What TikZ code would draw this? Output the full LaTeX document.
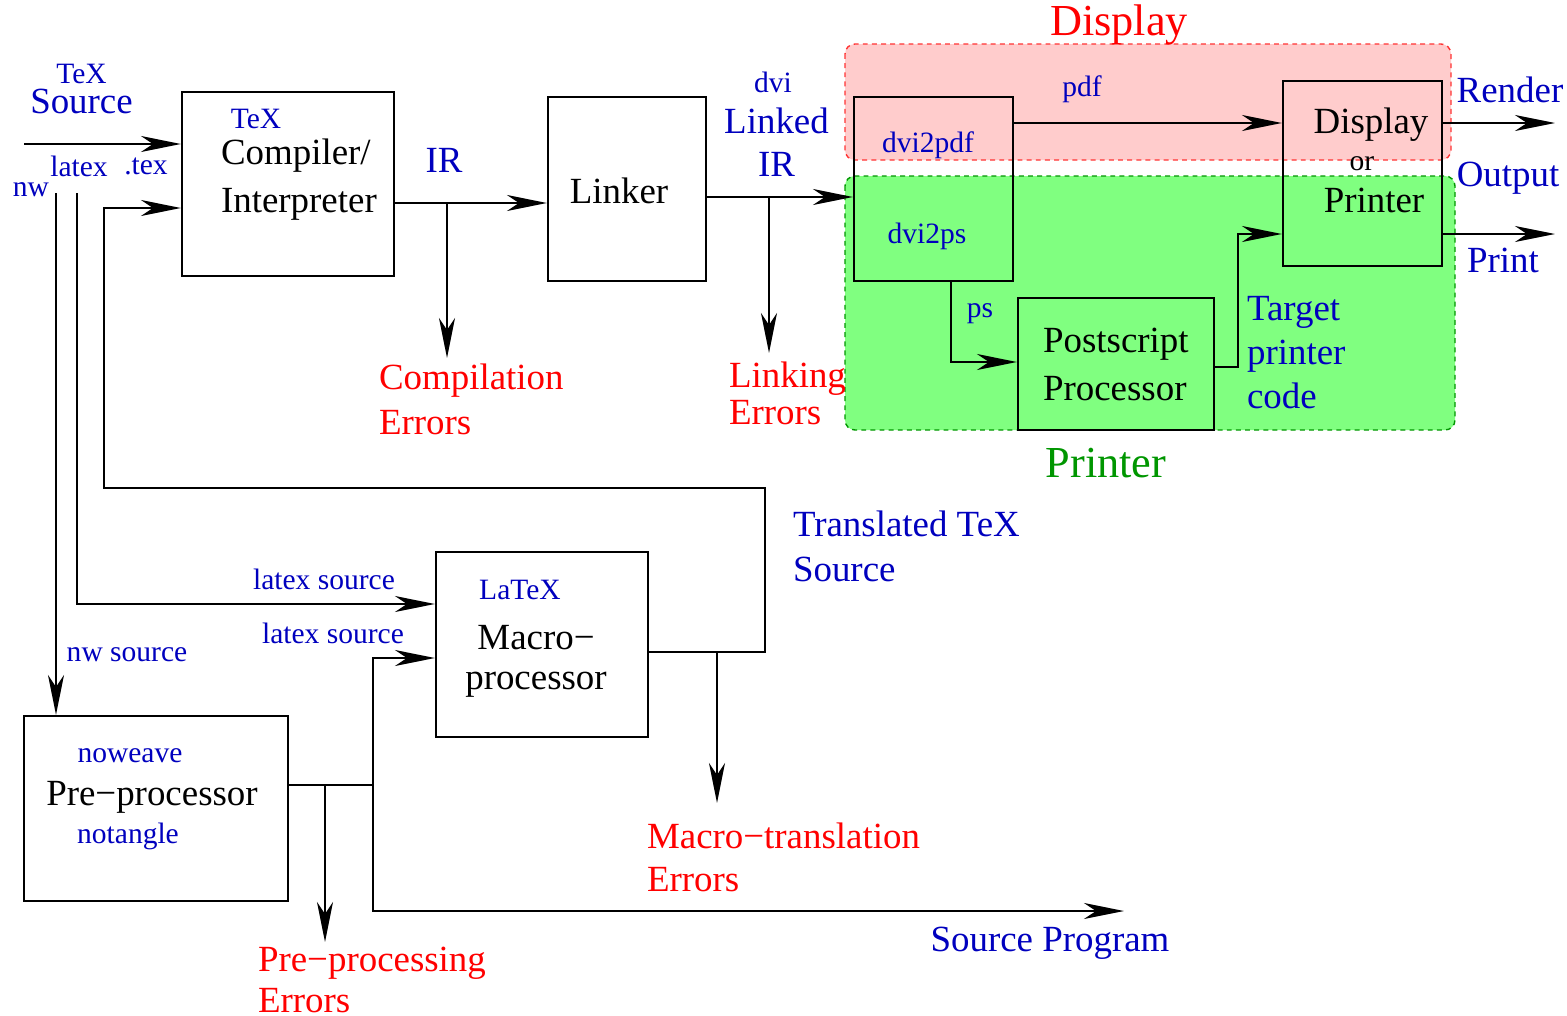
\documentclass[tikz,border=0pt]{standalone}
\usepackage{fontspec}
\setmainfont{Liberation Serif}
\usetikzlibrary{positioning,arrows.meta}
\definecolor{FigBlue}{RGB}{0,0,190}
\definecolor{FigRed}{RGB}{255,0,0}
\definecolor{FigGreen}{RGB}{0,150,0}
\definecolor{DispFill}{RGB}{255,204,204}
\definecolor{PrnFill}{RGB}{128,255,128}

\begin{document}
\begin{tikzpicture}[>={Stealth[length=4mm,width=1.6mm,inset=1.2mm]},
                    line width=0.6pt,
                    box/.style={draw, inner sep=0pt},
                    txt/.style={inner sep=0pt, font=\fontsize{10.5}{13}\selectfont},
                    note/.style={txt, text=FigBlue},
                    small/.style={inner sep=0pt, text=FigBlue, font=\fontsize{8.4}{10}\selectfont},
                    err/.style={txt, text=FigRed, align=left, anchor=west},
                    title/.style={inner sep=0pt, font=\fontsize{12.6}{15}\selectfont},
                    zone/.style={dashed, dash pattern=on 1.4pt off 1.2pt, rounded corners=1mm, line width=0.4pt}]
\useasboundingbox (0,0) rectangle (15.67,-10.16);

% output zones
\draw[zone, draw=FigRed!80, fill=DispFill] (8.45,-0.44) rectangle (14.51,-1.60);
\draw[zone, draw=FigGreen, fill=PrnFill] (8.45,-1.76) rectangle (14.55,-4.30);
\node[title, text=FigRed] (disptitle) at (11.19,-0.25) {Display};
\node[title, text=FigGreen] (prntitle) at (11.06,-4.63) {Printer};

% boxes
\node[box, minimum width=2.12cm, minimum height=1.84cm] (comp) at (2.88,-1.84) {};
\node[box, minimum width=1.58cm, minimum height=1.84cm] (link) at (6.27,-1.89) {};
\node[box, minimum width=1.59cm, minimum height=1.84cm] (dvi) at (9.335,-1.89) {};
\node[box, minimum width=1.59cm, minimum height=1.85cm] (disp) at (13.625,-1.735) {};
\node[box, minimum width=1.96cm, minimum height=1.32cm] (pspr) at (11.16,-3.64) {};
\node[box, minimum width=2.12cm, minimum height=1.85cm] (macro) at (5.42,-6.445) {};
\node[box, minimum width=2.64cm, minimum height=1.85cm] (prep) at (1.56,-8.085) {};

% box texts
\node[small] (comptex) at (2.56,-1.19) {TeX};
\node[txt, align=left, anchor=west] (complbl) at (2.20,-1.80) {Compiler/\\[0.6pt]Interpreter};
\node[txt] (linklbl) at (6.19,-1.91) {Linker};
\node[small] (dvipdflbl) at (9.28,-1.45) {dvi2pdf};
\node[small] (dvipslbl) at (9.27,-2.36) {dvi2ps};
\node[txt] (displbl) at (13.71,-1.25) {Display};
\node[small, text=black] (orlbl) at (13.62,-1.64) {or};
\node[txt] (prnlbl) at (13.74,-2.00) {Printer};
\node[txt, align=left, anchor=west] (psprlbl) at (10.42,-3.645) {Postscript\\[0.4pt]Processor};
\node[small] (latexlbl) at (5.20,-5.90) {LaTeX};
\node[txt, align=center] (macrolbl) at (5.36,-6.61) {Macro−\\[-1.7pt]processor};
\node[small] (noweave) at (1.30,-7.56) {noweave};
\node[txt] (prelbl) at (1.52,-7.97) {Pre−processor};
\node[small] (notangle) at (1.28,-8.36) {notangle};

% flow labels
\node[note, align=center] (srclbl) at (0.815,-0.89) {{\fontsize{8.4}{10}\selectfont TeX}\\[-4.2pt]Source};
\node[small] (latexin) at (0.79,-1.66) {latex};
\node[small] (dottex) at (1.46,-1.66) {.tex};
\node[small] (nwin) at (0.31,-1.90) {nw};
\node[note] (irlbl) at (4.44,-1.60) {IR};
\node[small] (dvilbl) at (7.73,-0.82) {dvi};
\node[note, align=center] (linkedlbl) at (7.765,-1.425) {Linked\\[-0.8pt]IR};
\node[small] (pdflbl) at (10.82,-0.89) {pdf};
\node[small] (pslbl) at (9.80,-3.14) {ps};
\node[note] (rendlbl) at (15.10,-0.90) {Render};
\node[note] (outlbl) at (15.08,-1.78) {Output};
\node[note] (prlbl) at (15.03,-2.60) {Print};
\node[note, align=left, anchor=west] (tgtlbl) at (12.46,-3.53) {Target\\[-0.5pt]printer\\[-0.5pt]code};
\node[note, align=left, anchor=west] (transl) at (7.92,-5.465) {Translated TeX\\Source};
\node[small] (ls1) at (3.24,-5.79) {latex source};
\node[small] (ls2) at (3.33,-6.33) {latex source};
\node[small] (nwsrc) at (1.27,-6.55) {nw source};
\node[note] (srcprog) at (10.50,-9.43) {Source Program};

% error labels
\node[err] (comperr) at (3.78,-3.995) {Compilation\\Errors};
\node[err] (linkerr) at (7.28,-3.935) {Linking\\[-2.5pt]Errors};
\node[err] (macerr) at (6.46,-8.575) {Macro−translation\\[-0.8pt]Errors};
\node[err] (preerr) at (2.57,-9.80) {Pre−processing\\[-1.1pt]Errors};

% connector points
\coordinate (srcin) at (0.24,-1.44);
\coordinate (irfork) at (4.47,-2.03);
\coordinate (irtip) at (4.47,-3.58);
\coordinate (lkfork) at (7.69,-1.97);
\coordinate (lktip) at (7.69,-3.53);
\coordinate (tgtbend) at (12.38,-2.34);
\coordinate (rendtip) at (15.55,-1.23);
\coordinate (prtip) at (15.55,-2.34);
\coordinate (loopR) at (7.65,-4.88);
\coordinate (loopL) at (1.04,-2.08);
\coordinate (mfork) at (7.17,-6.52);
\coordinate (mtip) at (7.17,-8.03);
\coordinate (latextop) at (0.77,-1.93);
\coordinate (nwtop) at (0.56,-1.93);
\coordinate (pjoin) at (3.73,-7.85);
\coordinate (pfork) at (3.25,-7.85);
\coordinate (ptip) at (3.25,-9.42);
\coordinate (progtip) at (11.24,-9.11);

% connectors
\draw[->] (srcin) -- (srcin -| comp.west);
\draw[->] (comp.east |- irfork) -- (link.west |- irfork);
\draw[->] (irfork) -- (irtip);
\draw[->] (link.east |- lkfork) -- (dvi.west |- lkfork);
\draw[->] (lkfork) -- (lktip);
\draw[->] (dvi.east |- rendtip) -- (disp.west |- rendtip);
\draw[->] (9.51,0 |- dvi.south) |- (pspr.west |- 0,-3.62);
\draw[->] (pspr.east |- 0,-3.67) -| (tgtbend) -- (disp.west |- tgtbend);
\draw[->] (disp.east |- rendtip) -- (rendtip);
\draw[->] (disp.east |- prtip) -- (prtip);
\draw[->] (macro.east |- mfork) -| (loopR) -| (loopL) -- (comp.west |- loopL);
\draw[->] (mfork) -- (mtip);
\draw[->] (latextop) |- (macro.west |- 0,-6.04);
\draw[->] (nwtop) -- (nwtop |- prep.north);
\draw (prep.east |- pjoin) -- (pjoin);
\draw[->] (pjoin) |- (macro.west |- 0,-6.58);
\draw[->] (pjoin) |- (progtip);
\draw[->] (pfork) -- (ptip);
\end{tikzpicture}
\end{document}
